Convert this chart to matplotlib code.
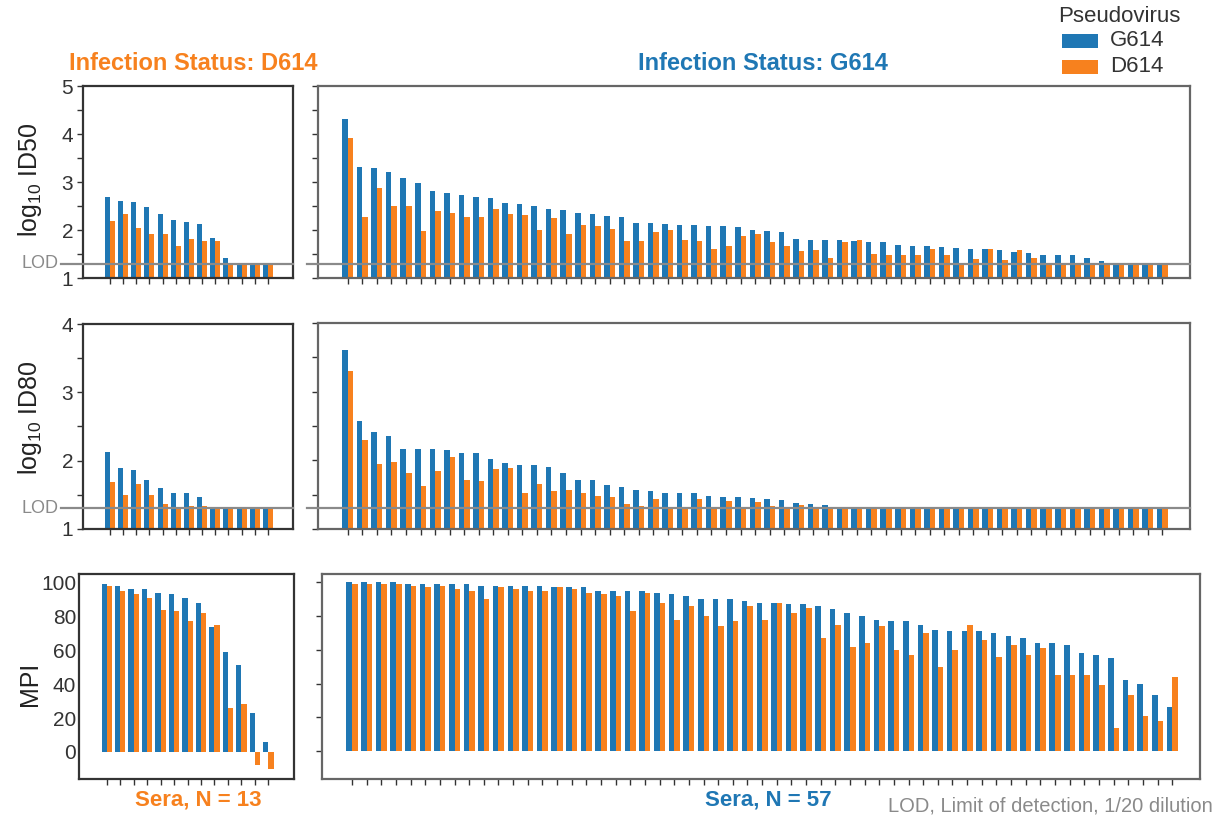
import numpy as np
import matplotlib
matplotlib.use("Agg")
import matplotlib.pyplot as plt
from matplotlib.ticker import MultipleLocator, NullFormatter
from matplotlib.patches import Rectangle
import matplotlib.transforms as mtransforms

plt.rcParams['font.family'] = ['Liberation Sans', 'DejaVu Sans']
plt.rcParams['mathtext.default'] = 'regular'

BLUE = '#1f77b4'
ORANGE = '#f7811e'
GRAY = '#8a8a8a'
LOD = np.log10(20)

series = ['G614', 'D614']

# Infection status D614 (N = 13)
d614_id50_g = [2.68, 2.60, 2.59, 2.47, 2.34, 2.20, 2.17, 2.13, 1.83, 1.42, 1.31, 1.30, 1.30]
d614_id50_d = [2.18, 2.34, 2.04, 1.92, 1.92, 1.66, 1.81, 1.77, 1.77, 1.30, 1.30, 1.30, 1.30]
d614_id80_g = [2.12, 1.89, 1.87, 1.72, 1.60, 1.53, 1.53, 1.47, 1.30, 1.30, 1.30, 1.30, 1.30]
d614_id80_d = [1.69, 1.50, 1.66, 1.50, 1.36, 1.30, 1.34, 1.34, 1.30, 1.30, 1.30, 1.30, 1.30]
d614_mpi_g = [99, 98, 96, 96, 94, 93, 91, 88, 74, 59, 51, 23, 6]
d614_mpi_d = [98, 95, 93, 91, 84, 83, 77, 82, 75, 26, 28, -8, -10]

# Infection status G614 (N = 57)
g614_id50_g = [4.31, 3.31, 3.29, 3.20, 3.08, 2.98, 2.82, 2.78, 2.73, 2.69,
               2.66, 2.57, 2.55, 2.50, 2.43, 2.41, 2.35, 2.34, 2.30, 2.27,
               2.15, 2.14, 2.13, 2.10, 2.10, 2.09, 2.08, 2.06, 1.99, 1.98,
               1.95, 1.81, 1.79, 1.79, 1.79, 1.77, 1.74, 1.74, 1.69, 1.66,
               1.66, 1.65, 1.63, 1.61, 1.60, 1.58, 1.54, 1.53, 1.48, 1.48,
               1.47, 1.42, 1.35, 1.30, 1.30, 1.30, 1.30]
g614_id50_d = [3.92, 2.27, 2.87, 2.49, 2.51, 1.97, 2.39, 2.36, 2.27, 2.27,
               2.43, 2.34, 2.32, 1.99, 2.24, 1.92, 2.10, 2.09, 2.02, 1.78,
               1.77, 1.96, 1.99, 1.80, 1.78, 1.60, 1.67, 1.88, 1.92, 1.74,
               1.67, 1.56, 1.59, 1.42, 1.75, 1.79, 1.51, 1.47, 1.47, 1.48,
               1.61, 1.47, 1.30, 1.40, 1.61, 1.37, 1.58, 1.41, 1.30, 1.30,
               1.30, 1.30, 1.30, 1.30, 1.30, 1.30, 1.30]
g614_id80_g = [3.61, 2.57, 2.41, 2.36, 2.17, 2.17, 2.17, 2.15, 2.11, 2.10,
               2.02, 1.96, 1.93, 1.93, 1.91, 1.81, 1.72, 1.71, 1.64, 1.61,
               1.57, 1.55, 1.53, 1.52, 1.52, 1.48, 1.47, 1.47, 1.45, 1.44,
               1.42, 1.38, 1.37, 1.35, 1.32, 1.30, 1.30, 1.30, 1.30, 1.30,
               1.30, 1.30, 1.30, 1.30, 1.30, 1.30, 1.30, 1.30, 1.30, 1.30,
               1.30, 1.30, 1.30, 1.30, 1.30, 1.30, 1.30]
g614_id80_d = [3.30, 2.29, 1.95, 1.98, 1.81, 1.62, 1.84, 2.05, 1.72, 1.70,
               1.87, 1.89, 1.53, 1.65, 1.55, 1.57, 1.53, 1.48, 1.46, 1.37,
               1.33, 1.44, 1.30, 1.30, 1.44, 1.30, 1.41, 1.30, 1.39, 1.33,
               1.30, 1.35, 1.30, 1.30, 1.30, 1.30, 1.30, 1.30, 1.30, 1.30,
               1.30, 1.30, 1.30, 1.30, 1.30, 1.30, 1.30, 1.30, 1.30, 1.30,
               1.30, 1.30, 1.30, 1.30, 1.30, 1.30, 1.30]
g614_mpi_g = [100, 100, 100, 100, 99, 99, 99, 99, 99, 98,
              98, 98, 98, 98, 97, 97, 97, 95, 95, 95,
              95, 94, 93, 92, 90, 90, 90, 89, 88, 88,
              87, 87, 86, 84, 82, 80, 78, 77, 77, 75,
              72, 71, 71, 71, 70, 68, 67, 64, 64, 63,
              58, 57, 55, 42, 40, 33, 26]
g614_mpi_d = [99, 99, 99, 99, 98, 97, 98, 96, 95, 90,
              97, 96, 95, 95, 97, 96, 94, 93, 92, 83,
              94, 88, 78, 86, 80, 74, 77, 86, 78, 88,
              82, 85, 67, 75, 62, 64, 74, 60, 57, 70,
              50, 60, 75, 66, 56, 63, 57, 61, 45, 45,
              45, 39, 14, 33, 21, 18, 44]

W, H = 1220, 817
fig = plt.figure(figsize=(W / 100, H / 100), dpi=100)


def ax_px(l, t, r, b):
    return fig.add_axes([l / W, 1 - b / H, (r - l) / W, (b - t) / H])


BW = 0.38
TICKFS = 15


def draw(ax, g, d, ylim, base, left, spine_col):
    n = len(g)
    x = np.arange(n)
    gv = np.array(g) - base
    dv = np.array(d) - base
    ax.bar(x - BW / 2, gv, BW, bottom=base, color=BLUE, linewidth=0, zorder=2)
    ax.bar(x + BW / 2, dv, BW, bottom=base, color=ORANGE, linewidth=0, zorder=2)
    ax.set_xlim(-2.05, n - 1 + 1.9)
    ax.set_ylim(*ylim)
    ax.set_xticks(x)
    ax.set_xticklabels([])
    ax.tick_params(axis='x', direction='out', length=4, width=1, color='#333333')
    ax.tick_params(axis='y', direction='out', length=4, width=1, color='#333333',
                   labelsize=TICKFS, labelcolor='#333333', pad=3)
    for s in ax.spines.values():
        s.set_color(spine_col)
        s.set_linewidth(1.6)
    if not left:
        ax.set_yticklabels([])
        ax.yaxis.set_minor_formatter(NullFormatter())


def lod(ax, xmin):
    ax.axhline(LOD, xmin=xmin, xmax=1, color=GRAY, lw=1.6, clip_on=False, zorder=3)


# ---- Row 1: ID50
a1 = ax_px(83, 86, 293, 278)
draw(a1, d614_id50_g, d614_id50_d, (1, 5), 1, True, '#333333')
a1.set_yticks([1, 2, 3, 4, 5])
a1.yaxis.set_minor_locator(MultipleLocator(0.5))
a1.tick_params(axis='y', which='minor', direction='out', length=4, width=1, color='#333333')
lod(a1, -0.105)

a2 = ax_px(318, 86, 1190, 278)
draw(a2, g614_id50_g, g614_id50_d, (1, 5), 1, False, '#666666')
a2.set_yticks(np.arange(1, 5.01, 0.5))
a2.set_yticklabels([])
lod(a2, -0.013)

# ---- Row 2: ID80
b1 = ax_px(83, 324, 293, 529)
draw(b1, d614_id80_g, d614_id80_d, (1, 4), 1, True, '#333333')
b1.set_yticks([1, 2, 3, 4])
b1.yaxis.set_minor_locator(MultipleLocator(0.5))
b1.tick_params(axis='y', which='minor', direction='out', length=4, width=1, color='#333333')
lod(b1, -0.105)

b2 = ax_px(318, 323, 1190, 529)
draw(b2, g614_id80_g, g614_id80_d, (1, 4), 1, False, '#666666')
b2.set_yticks(np.arange(1, 4.01, 0.5))
b2.set_yticklabels([])
lod(b2, -0.013)

# ---- Row 3: MPI
c1 = ax_px(79, 574, 294, 779)
draw(c1, d614_mpi_g, d614_mpi_d, (-16, 105), 0, True, '#333333')
c1.set_yticks([0, 20, 40, 60, 80, 100])
c1.tick_params(axis='y', length=0, pad=2)

c2 = ax_px(322, 574, 1200, 779)
draw(c2, g614_mpi_g, g614_mpi_d, (-16.5, 105), 0, False, '#666666')
c2.set_yticks([0, 20, 40, 60, 80, 100])
c2.set_yticklabels([])

# LOD labels
for ax in (a1, b1):
    tr = mtransforms.blended_transform_factory(ax.transAxes, ax.transData)
    ax.text(-0.118, LOD, 'LOD', transform=tr, ha='right', va='center',
            fontsize=13, color=GRAY)

# Y labels
fig.text(30 / W, 1 - 180 / H, r'log$_{10}$ ID50', rotation=90, ha='center', va='center',
         fontsize=18, color='#222222')
fig.text(30 / W, 1 - 418 / H, r'log$_{10}$ ID80', rotation=90, ha='center', va='center',
         fontsize=18, color='#222222')
fig.text(30 / W, 1 - 684 / H, 'MPI', rotation=90, ha='center', va='center',
         fontsize=18, color='#222222')

# Titles
fig.text(193 / W, 1 - 63 / H, 'Infection Status: D614', ha='center', va='center',
         fontsize=17, fontweight='bold', color=ORANGE)
fig.text(763 / W, 1 - 63 / H, 'Infection Status: G614', ha='center', va='center',
         fontsize=17, fontweight='bold', color='#1f77b4')

# Bottom labels
fig.text(198 / W, 1 - 800 / H, 'Sera, N = 13', ha='center', va='center',
         fontsize=16, fontweight='bold', color=ORANGE)
fig.text(768 / W, 1 - 800 / H, 'Sera, N = 57', ha='center', va='center',
         fontsize=16, fontweight='bold', color='#1f77b4')
fig.text(1213 / W, 1 - 806 / H, 'LOD, Limit of detection, 1/20 dilution', ha='right',
         va='center', fontsize=14.5, color=GRAY)

# Legend
fig.text(1119 / W, 1 - 17 / H, 'Pseudovirus', ha='center', va='center',
         fontsize=16, color='#333333')
for i, (lab, col) in enumerate(zip(series, [BLUE, ORANGE])):
    yc = 41 + i * 26
    fig.patches.append(Rectangle((1062 / W, 1 - (yc + 6.5) / H), 36 / W, 13 / H,
                                 transform=fig.transFigure, facecolor=col,
                                 edgecolor='none'))
    fig.text(1110 / W, 1 - yc / H, lab, ha='left', va='center', fontsize=16,
             color='#333333')

fig.savefig('out.png', dpi=100)
